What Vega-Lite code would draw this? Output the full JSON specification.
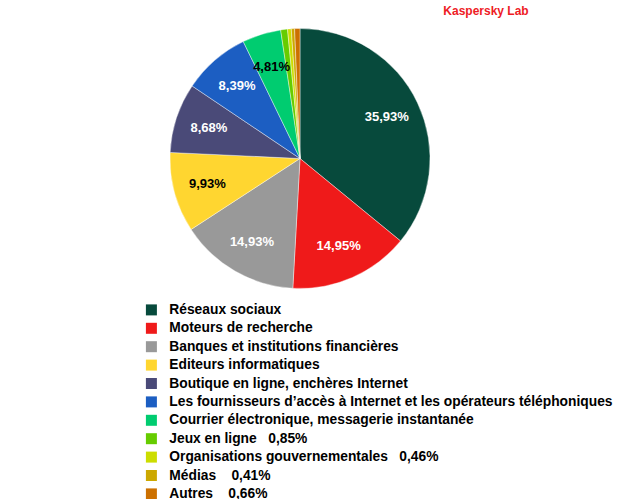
{
  "$schema": "https://vega.github.io/schema/vega-lite/v6.json",
  "width": 600,
  "height": 277,
  "autosize": "none",
  "padding": {"top": 20, "left": 0, "right": 30, "bottom": 202},
  "background": "#ffffff",
  "title": {
    "text": "Kaspersky Lab",
    "color": "#ee1c25",
    "font": "Liberation Sans",
    "fontSize": 12,
    "fontWeight": "bold",
    "anchor": "middle",
    "dx": 186,
    "dy": 12,
    "offset": 2,
    "baseline": "bottom"
  },
  "data": {
    "values": [
      {"ordre": 1, "legende": "Réseaux sociaux", "part": 35.93, "etiquette": "35,93%"},
      {"ordre": 2, "legende": "Moteurs de recherche", "part": 14.95, "etiquette": "14,95%"},
      {"ordre": 3, "legende": "Banques et institutions financières", "part": 14.93, "etiquette": "14,93%"},
      {"ordre": 4, "legende": "Editeurs informatiques", "part": 9.93, "etiquette": "9,93%"},
      {"ordre": 5, "legende": "Boutique en ligne, enchères Internet", "part": 8.68, "etiquette": "8,68%"},
      {"ordre": 6, "legende": "Les fournisseurs d’accès à Internet et les opérateurs téléphoniques", "part": 8.39, "etiquette": "8,39%"},
      {"ordre": 7, "legende": "Courrier électronique, messagerie instantanée", "part": 4.81, "etiquette": "4,81%"},
      {"ordre": 8, "legende": "Jeux en ligne\u00a0\u00a0\u00a00,85%", "part": 0.85, "etiquette": ""},
      {"ordre": 9, "legende": "Organisations gouvernementales\u00a0\u00a0\u00a00,46%", "part": 0.46, "etiquette": ""},
      {"ordre": 10, "legende": "Médias\u00a0\u00a0\u00a0\u00a00,41%", "part": 0.41, "etiquette": ""},
      {"ordre": 11, "legende": "Autres\u00a0\u00a0\u00a0\u00a00,66%", "part": 0.66, "etiquette": ""}
    ]
  },
  "encoding": {
    "theta": {"field": "part", "type": "quantitative", "stack": true},
    "order": {"field": "ordre", "type": "quantitative"},
    "color": {
      "field": "legende",
      "type": "nominal",
      "sort": null,
      "scale": {
        "domain": [
          "Réseaux sociaux",
          "Moteurs de recherche",
          "Banques et institutions financières",
          "Editeurs informatiques",
          "Boutique en ligne, enchères Internet",
          "Les fournisseurs d’accès à Internet et les opérateurs téléphoniques",
          "Courrier électronique, messagerie instantanée",
          "Jeux en ligne\u00a0\u00a0\u00a00,85%",
          "Organisations gouvernementales\u00a0\u00a0\u00a00,46%",
          "Médias\u00a0\u00a0\u00a0\u00a00,41%",
          "Autres\u00a0\u00a0\u00a0\u00a00,66%"
        ],
        "range": ["#074a3c", "#ef1a1a", "#999999", "#ffd630", "#4a4a78", "#1c5ec2", "#00cc70", "#66cc00", "#ccdd00", "#cca800", "#cc7000"]
      },
      "legend": {
        "title": null,
        "orient": "none",
        "legendX": 144.5,
        "legendY": 283,
        "padding": 0,
        "symbolType": "square",
        "symbolSize": 121,
        "symbolStrokeWidth": 0,
        "labelOffset": 11,
        "labelFont": "Liberation Sans",
        "labelFontSize": 13.8,
        "labelFontWeight": "bold",
        "labelColor": "#000000",
        "labelLimit": 600,
        "rowPadding": 3.4
      }
    }
  },
  "layer": [
    {
      "mark": {"type": "arc", "outerRadius": 130, "stroke": "#ffffff", "strokeWidth": 0.4}
    },
    {
      "mark": {
        "type": "text",
        "radius": 96,
        "font": "Liberation Sans",
        "fontSize": 13,
        "fontWeight": "bold"
      },
      "encoding": {
        "text": {"field": "etiquette", "type": "nominal"},
        "color": {
          "condition": {"test": "datum.part == 9.93 || datum.part == 4.81", "value": "#000000"},
          "value": "#ffffff"
        }
      }
    }
  ]
}
